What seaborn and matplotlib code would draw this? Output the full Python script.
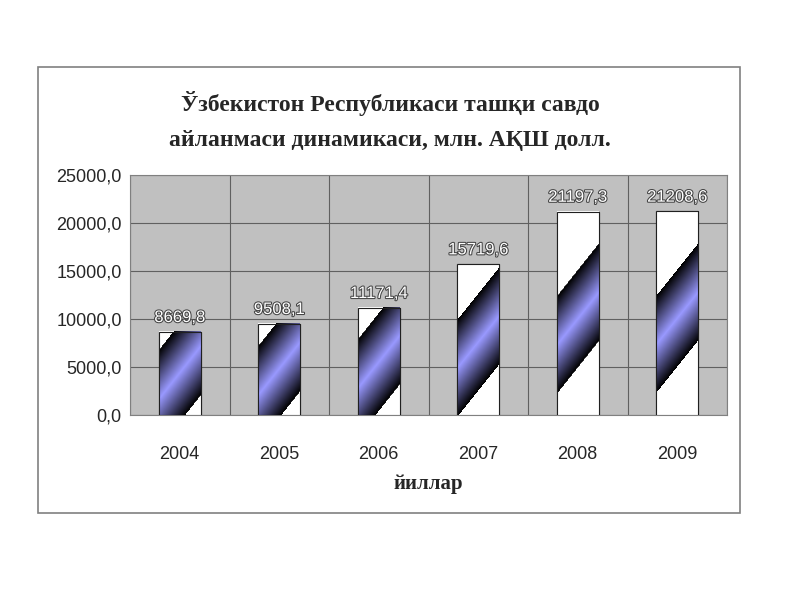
import matplotlib
matplotlib.use("Agg")
import matplotlib.pyplot as plt
import matplotlib.patheffects as pe
from matplotlib.patches import Rectangle
import numpy as np
import pandas as pd
import seaborn as sns

years = ["2004", "2005", "2006", "2007", "2008", "2009"]
values = [8669.8, 9508.1, 11171.4, 15719.6, 21197.3, 21208.6]
labels = ["8669,8", "9508,1", "11171,4", "15719,6", "21197,3", "21208,6"]
ticks = [0, 5000, 10000, 15000, 20000, 25000]

sns.set_style("white")
plt.rcParams['font.family'] = ['Liberation Sans', 'DejaVu Sans']

fig = plt.figure(figsize=(8, 6), dpi=100)
fig.patches.append(Rectangle((38/800, 1-513/600), 702/800, 446/600, transform=fig.transFigure,
                             facecolor="white", edgecolor="#808080", lw=1.2, zorder=-10))
ax = fig.add_axes([130/800, 1-415/600, 597/800, 240/600])
ax.set_zorder(5)
ax.set_facecolor("#C0C0C0")
df = pd.DataFrame({"year": years, "value": values})
sns.barplot(data=df, x="year", y="value", ax=ax, width=0.42, color="white",
            edgecolor="#202020", linewidth=0.8, zorder=3)
ax.set_xlim(-0.5, 5.5)
ax.set_ylim(0, 25000)

blue = np.array([0.6, 0.6, 1.0]); black = np.zeros(3)
for p in ax.patches:
    x0, w, h = p.get_x(), p.get_width(), p.get_height()
    Wpx = int(round(w * 597 / 6)); Hpx = int(round(h * 240 / 25000))
    ys, xs = np.mgrid[0:Hpx, 0:Wpx].astype(float)
    top = Hpx - (0.55 * Hpx - 27) + 1.25 * xs
    thick = 97.0
    t = (top - ys) / thick
    img = np.ones((Hpx, Wpx, 3))
    inb = (t >= 0) & (t <= 1)
    f = (1 - np.abs(2 * t - 1))[..., None]
    col = black * (1 - f) + blue * f
    img[inb] = col[inb]
    ax.imshow(img, extent=[x0, x0 + w, 0, h], origin="lower", aspect="auto", zorder=3.5,
              interpolation="bilinear")
    ax.add_patch(Rectangle((x0, 0), w, h, fill=False, edgecolor="#202020", lw=0.8, zorder=4))

for i, (v, l) in enumerate(zip(values, labels)):
    ax.text(i, v + 700, l, ha="center", va="bottom", fontsize=12, color="white",
            path_effects=[pe.withStroke(linewidth=1.5, foreground="#444444")], zorder=5)
ax.set_xlim(-0.5, 5.5)
ax.set_ylim(0, 25000)
ax.set_yticks(ticks)
ax.set_yticklabels([f"{t:.1f}".replace(".", ",") for t in ticks], fontsize=13)
ax.set_xticks(range(6))
ax.set_xticklabels(years, fontsize=13)
ax.grid(axis="y", color="#606060", lw=0.8, zorder=0)
for xv in np.arange(-0.5, 6, 1):
    ax.axvline(xv, color="#606060", lw=0.8, zorder=0)
ax.tick_params(axis="x", length=0, pad=22)
ax.tick_params(axis="y", length=0, pad=6)
for s in ax.spines.values():
    s.set_color("#808080")
ax.set_xlabel("йиллар", fontsize=15, labelpad=8, family=['Liberation Serif'], fontweight="bold")
ax.set_ylabel("")
fig.text(390/800, 1-103/600, "Ўзбекистон Республикаси ташқи савдо", ha="center", va="center",
         fontsize=17, fontweight="bold", family=['Liberation Serif'])
fig.text(390/800, 1-140/600, "айланмаси динамикаси, млн. АҚШ долл.", ha="center", va="center",
         fontsize=17, fontweight="bold", family=['Liberation Serif'])
fig.savefig("out.png", dpi=100)
